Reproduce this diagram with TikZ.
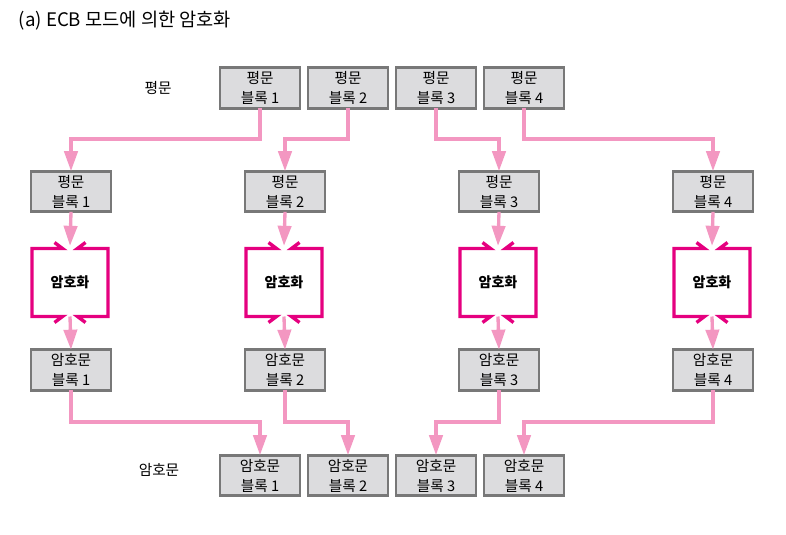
\documentclass[tikz,border=0pt]{standalone}
\usepackage{fontspec}
\newfontfamily\krfont{Noto Sans CJK KR}
\usetikzlibrary{arrows.meta,calc}
\definecolor{linkpink}{HTML}{F397C1}
\definecolor{encmag}{HTML}{E5007F}
\definecolor{blockgray}{HTML}{DCDCDE}
\definecolor{blockedge}{HTML}{787878}

\begin{document}
\begin{tikzpicture}[x=0.75pt,y=-0.75pt,
  font=\krfont\fontsize{11}{15}\selectfont,
  block/.style={draw=blockedge, line width=2.2pt, fill=blockgray,
    minimum width=60pt, minimum height=30.5pt, inner sep=0pt,
    outer sep=0pt, align=center},
  enc/.style={minimum width=57pt, minimum height=51pt, inner sep=0pt,
    outer sep=0pt, font=\krfont\bfseries\fontsize{10.5}{13}\selectfont},
  encline/.style={draw=encmag, line width=2.5pt},
  link/.style={draw=linkpink, line width=2.5pt,
    -{Triangle[width=10pt,length=15pt]}}]
  \useasboundingbox (0,0) rectangle (786,535);

  \node[anchor=west, font=\krfont\fontsize{14}{16}\selectfont] (title)
    at (14,21) {(a) ECB 모드에 의한 암호화};

  % plaintext blocks on top
  \node (ptlabel) at (158,88) {평문};
  \node[block] (p1) at (260,88) {평문\\블록 1};
  \node[block] (p2) at (348,88) {평문\\블록 2};
  \node[block] (p3) at (436,88) {평문\\블록 3};
  \node[block] (p4) at (524,88) {평문\\블록 4};

  % one column per block
  \node[block] (q1) at (71,191.5) {평문\\블록 1};
  \node[block] (q2) at (285,191.5) {평문\\블록 2};
  \node[block] (q3) at (499,191.5) {평문\\블록 3};
  \node[block] (q4) at (713,191.5) {평문\\블록 4};

  \node[enc] (e1) at (70,282.5) {암호화};
  \node[enc] (e2) at (284,282.5) {암호화};
  \node[enc] (e3) at (498,282.5) {암호화};
  \node[enc] (e4) at (712,282.5) {암호화};

  \node[block] (c1) at (71,370) {암호문\\블록 1};
  \node[block] (c2) at (285,370) {암호문\\블록 2};
  \node[block] (c3) at (499,370) {암호문\\블록 3};
  \node[block] (c4) at (713,370) {암호문\\블록 4};

  % ciphertext blocks at the bottom
  \node (ctlabel) at (159,470) {암호문};
  \node[block] (d1) at (260,475.5) {암호문\\블록 1};
  \node[block] (d2) at (348,475.5) {암호문\\블록 2};
  \node[block] (d3) at (436,475.5) {암호문\\블록 3};
  \node[block] (d4) at (524,475.5) {암호문\\블록 4};

  % open frames of the encryption boxes
  \draw[encline] (e1.north) ++(-15.5,-6) -- ++(8,6) -- (e1.north west)
    -- (e1.south west) -- ++(30.5,0) -- ++(-8,6);
  \draw[encline] (e1.north) ++(15.5,-6) -- ++(-8,6) -- (e1.north east)
    -- (e1.south east) -- ++(-30.5,0) -- ++(8,6);
  \draw[encline] (e2.north) ++(-15.5,-6) -- ++(8,6) -- (e2.north west)
    -- (e2.south west) -- ++(30.5,0) -- ++(-8,6);
  \draw[encline] (e2.north) ++(15.5,-6) -- ++(-8,6) -- (e2.north east)
    -- (e2.south east) -- ++(-30.5,0) -- ++(8,6);
  \draw[encline] (e3.north) ++(-15.5,-6) -- ++(8,6) -- (e3.north west)
    -- (e3.south west) -- ++(30.5,0) -- ++(-8,6);
  \draw[encline] (e3.north) ++(15.5,-6) -- ++(-8,6) -- (e3.north east)
    -- (e3.south east) -- ++(-30.5,0) -- ++(8,6);
  \draw[encline] (e4.north) ++(-15.5,-6) -- ++(8,6) -- (e4.north west)
    -- (e4.south west) -- ++(30.5,0) -- ++(-8,6);
  \draw[encline] (e4.north) ++(15.5,-6) -- ++(-8,6) -- (e4.north east)
    -- (e4.south east) -- ++(-30.5,0) -- ++(8,6);

  % connectors
  \coordinate (upbus) at (0,139);
  \coordinate (downbus) at (0,422);
  \draw[link] (p1.south) -- (p1.south |- upbus) -| (q1.north);
  \draw[link] (p2.south) -- (p2.south |- upbus) -| (q2.north);
  \draw[link] (p3.south) -- (p3.south |- upbus) -| (q3.north);
  \draw[link] (p4.south) -- (p4.south |- upbus) -| (q4.north);

  \draw[link] (q1.south) -- ([yshift=2pt]e1.north);
  \draw[link] (q2.south) -- ([yshift=2pt]e2.north);
  \draw[link] (q3.south) -- ([yshift=2pt]e3.north);
  \draw[link] (q4.south) -- ([yshift=2pt]e4.north);

  \draw[link] (e1.south) -- (c1.north);
  \draw[link] (e2.south) -- (c2.north);
  \draw[link] (e3.south) -- (c3.north);
  \draw[link] (e4.south) -- (c4.north);

  \draw[link] (c1.south) -- (c1.south |- downbus) -| (d1.north);
  \draw[link] (c2.south) -- (c2.south |- downbus) -| (d2.north);
  \draw[link] (c3.south) -- (c3.south |- downbus) -| (d3.north);
  \draw[link] (c4.south) -- (c4.south |- downbus) -| (d4.north);
\end{tikzpicture}
\end{document}
